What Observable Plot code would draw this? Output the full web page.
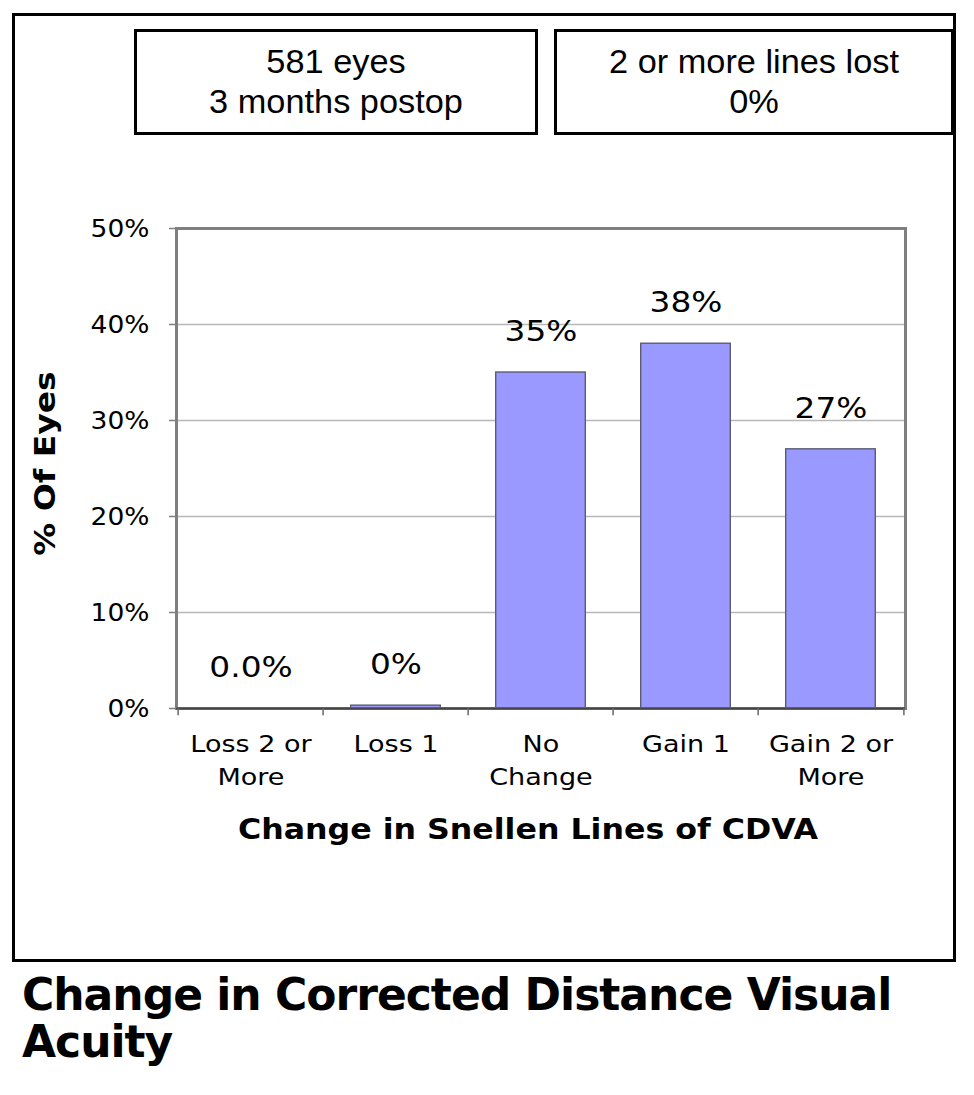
<!DOCTYPE html>
<html>
<head>
<meta charset="utf-8">
<script src="https://cdn.jsdelivr.net/npm/d3@7"></script>
<script src="https://cdn.jsdelivr.net/npm/@observablehq/plot@0.6"></script>
<style>
  body { margin: 0; background: #fff; }
  #wrap { position: relative; width: 974px; height: 1095px; overflow: hidden; }
  #chart { position: absolute; left: 0; top: 0; }
  .outer { position: absolute; left: 12px; top: 13px; width: 938px; height: 943px; border: 3px solid #000; }
  .box { position: absolute; top: 29px; height: 90px; border: 3px solid #000; background: #fff;
         font-family: "Liberation Sans", Arial, sans-serif; font-size: 33px; line-height: 40px;
         text-align: center; padding-top: 10px; box-sizing: content-box; }
  .box div { height: 40px; transform: scaleX(1.04); }
  #title { position: absolute; left: 22px; top: 971px; font-family: "DejaVu Sans", Verdana, sans-serif;
           font-weight: bold; font-size: 44px; line-height: 47px; letter-spacing: -1px; color: #000; }
</style>
</head>
<body>
<div id="wrap">
  <div class="outer"></div>
  <div id="chart"></div>
  <div class="box" style="left:134px; width:398px;"><div id="b1l1"></div><div id="b1l2"></div></div>
  <div class="box" style="left:554px; width:394px;"><div id="b2l1"></div><div id="b2l2"></div></div>
  <div id="title"></div>
</div>
<script>
const categories = ["Loss 2 or More", "Loss 1", "No Change", "Gain 1", "Gain 2 or More"];
const tickLabels = ["Loss 2 or\nMore", "Loss 1", "No\nChange", "Gain 1", "Gain 2 or\nMore"];
const values = [0, 0.3, 35, 38, 27];
const valueLabels = ["0.0%", "0%", "35%", "38%", "27%"];
const yTicks = [0, 10, 20, 30, 40, 50];
const yLabel = "% Of Eyes";
const xLabel = "Change in Snellen Lines of CDVA";
const box1 = ["581 eyes", "3 months postop"];
const box2 = ["2 or more lines lost", "0%"];
const titleLines = ["Change in Corrected Distance Visual", "Acuity"];

const data = categories.map((c, i) => ({category: c, value: values[i], label: valueLabels[i]}));

const W = 974, H = 962, mL = 176, mR = 69, mT = 228, mB = 254;
const band = (W - mL - mR) / categories.length;

const chart = Plot.plot({
  width: W, height: H,
  marginLeft: mL, marginRight: mR, marginTop: mT, marginBottom: mB,
  style: {fontFamily: "'DejaVu Sans', Verdana, sans-serif", background: "transparent", color: "#000"},
  x: {domain: categories, padding: 0, axis: null, label: null},
  y: {domain: [0, 50], axis: null, label: null},
  marks: [
    Plot.gridY(yTicks.slice(1, -1), {stroke: "#b8b8b8", strokeOpacity: 1, strokeWidth: 1.5}),
    Plot.barY(data, {x: "category", y: "value", fill: "#9999ff", stroke: "#55556a", strokeWidth: 1.3,
                     insetLeft: band * 0.19, insetRight: band * 0.19}),
    Plot.frame({stroke: "#7f7f7f", strokeWidth: 3}),
    Plot.ruleY([0], {stroke: "#444", strokeWidth: 2}),
    Plot.ruleX(categories, {x: d => d, dx: -band / 2, y1: 0, y2: -0.75, stroke: "#666", strokeWidth: 1.5}),
    Plot.ruleX(categories.slice(-1), {x: d => d, dx: band / 2, y1: 0, y2: -0.75, stroke: "#666", strokeWidth: 1.5}),
    Plot.axisY({ticks: yTicks, tickFormat: d => d + "%", tickSize: 7, tickPadding: 20, fontSize: 25,
                stroke: "#7f7f7f", strokeWidth: 1.5, fill: "#000", label: null}),
    Plot.axisX({tickFormat: d => tickLabels[categories.indexOf(d)], tickSize: 0, tickPadding: 20,
                fontSize: 23.5, lineHeight: 1.4, fill: "#000", label: null}),
    Plot.text(data, {x: "category", y: "value", text: "label", dy: -41, fontSize: 29, fill: "#000"}),
    Plot.text([yLabel], {frameAnchor: "left", textAnchor: "middle", rotate: -90, dx: -130, dy: -5,
                         fontSize: 27.5, fontWeight: "bold", fill: "#000"}),
    Plot.text([xLabel], {frameAnchor: "bottom", textAnchor: "middle", dx: -13, dy: 130,
                         fontSize: 27.5, fontWeight: "bold", fill: "#000"})
  ]
});
document.getElementById("chart").appendChild(chart);

// the reference's glyphs are wider than DejaVu's: stretch each text horizontally
function stretch(selection, factor) {
  selection.each(function() {
    const tspans = this.querySelectorAll("tspan");
    const els = tspans.length ? Array.from(tspans) : [this];
    els.forEach(el => {
      const L = el.getComputedTextLength();
      if (L > 0) {
        el.setAttribute("textLength", (L * factor).toFixed(1));
        el.setAttribute("lengthAdjust", "spacingAndGlyphs");
      }
    });
  });
}
const svg = d3.select(chart);
stretch(svg.selectAll('g[aria-label="y-axis tick label"] text'), 1.06);
stretch(svg.selectAll('g[aria-label="x-axis tick label"] text'), 1.15);
const factors = [1.13, 1.2, 1.15];
svg.selectAll('g[aria-label="text"]').each(function(_, i) {
  stretch(d3.select(this).selectAll("text"), factors[i]);
});

document.getElementById("b1l1").textContent = box1[0];
document.getElementById("b1l2").textContent = box1[1];
document.getElementById("b2l1").textContent = box2[0];
document.getElementById("b2l2").textContent = box2[1];
const t = document.getElementById("title");
t.appendChild(document.createTextNode(titleLines[0]));
t.appendChild(document.createElement("br"));
t.appendChild(document.createTextNode(titleLines[1]));
</script>
</body>
</html>
